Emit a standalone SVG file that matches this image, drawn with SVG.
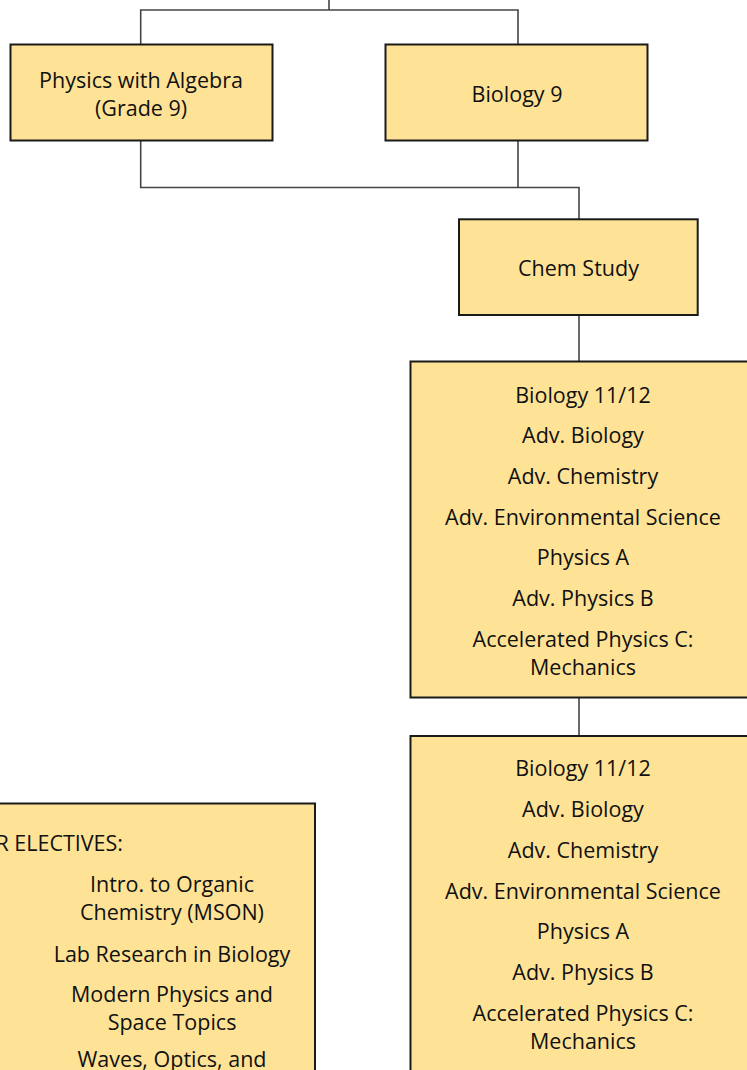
<svg xmlns="http://www.w3.org/2000/svg" width="747" height="1070" viewBox="0 0 747 1070">
<style>
.box{fill:#FEE396;stroke:#1a1a1a;stroke-width:2}
.conn{fill:none;stroke:#444;stroke-width:1.6}
text{font-family:"Open Sans","Noto Sans","Liberation Sans",sans-serif;font-size:21.5px;fill:#111;text-anchor:middle}
</style>
<rect width="747" height="1070" fill="#fff"/>
<g id="connectors">
<path class="conn" d="M329 0V10" stroke-width="2"/>
<path class="conn" d="M140.7 44.5V10H518V44.5"/>
<path class="conn" d="M140.7 140.5V187.5H579V219.3"/>
<path class="conn" d="M518 140.5V187.5"/>
<path class="conn" d="M579 315V361"/>
<path class="conn" d="M579 697V736"/>
</g>
<g id="physics-algebra">
<rect class="box" x="10.5" y="44.5" width="262" height="96"/>
<text x="141" y="88">Physics with Algebra</text>
<text x="141" y="115.5">(Grade 9)</text>
</g>
<g id="biology-9">
<rect class="box" x="385.5" y="44.5" width="262" height="96"/>
<text x="517" y="101.5">Biology 9</text>
</g>
<g id="chem-study">
<rect class="box" x="459" y="219.3" width="238.7" height="95.7"/>
<text x="578.5" y="275.5">Chem Study</text>
</g>
<g id="courses-1">
<rect class="box" x="410.5" y="361.5" width="345" height="336"/>
<text x="583" y="402.7">Biology 11/12</text>
<text x="583" y="443.3">Adv. Biology</text>
<text x="583" y="484">Adv. Chemistry</text>
<text x="583" y="525">Adv. Environmental Science</text>
<text x="583" y="565.3">Physics A</text>
<text x="583" y="606">Adv. Physics B</text>
<text x="583" y="646.5">Accelerated Physics C:</text>
<text x="583" y="675">Mechanics</text>
</g>
<g id="courses-2">
<rect class="box" x="410.5" y="736" width="345" height="350"/>
<text x="583" y="776">Biology 11/12</text>
<text x="583" y="816.7">Adv. Biology</text>
<text x="583" y="857.7">Adv. Chemistry</text>
<text x="583" y="899">Adv. Environmental Science</text>
<text x="583" y="939.3">Physics A</text>
<text x="583" y="980">Adv. Physics B</text>
<text x="583" y="1020.7">Accelerated Physics C:</text>
<text x="583" y="1049.3">Mechanics</text>
</g>
<g id="electives">
<rect class="box" x="-20" y="803.5" width="335" height="300"/>
<text x="123" y="851" style="text-anchor:end">R ELECTIVES:</text>
<text x="172" y="891.7">Intro. to Organic</text>
<text x="172" y="920.2">Chemistry (MSON)</text>
<text x="172" y="961.7">Lab Research in Biology</text>
<text x="172" y="1001.7">Modern Physics and</text>
<text x="172" y="1030.2">Space Topics</text>
<text x="172" y="1066.7">Waves, Optics, and</text>
</g>
</svg>
